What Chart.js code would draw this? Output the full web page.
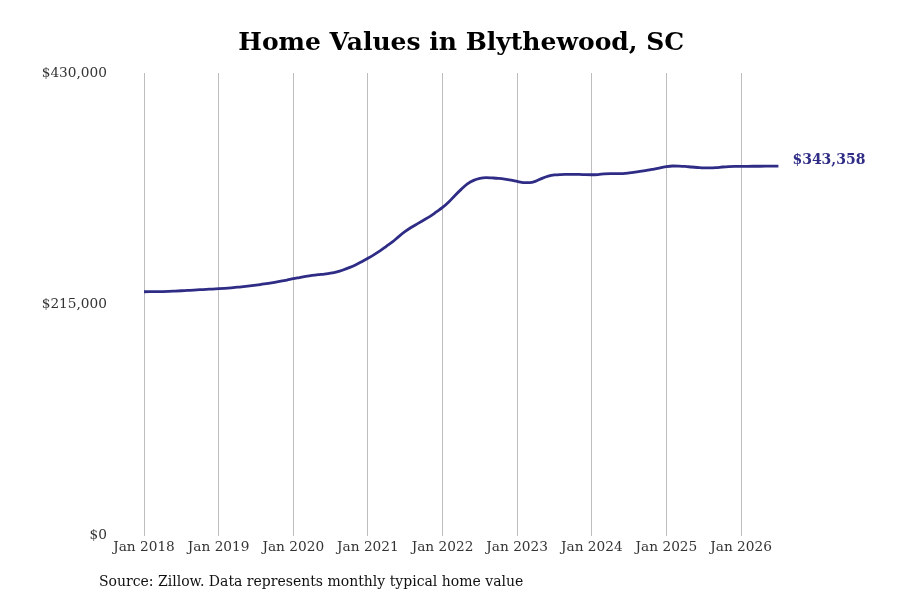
<!DOCTYPE html>
<html>
<head>
<meta charset="utf-8">
<script src="https://cdn.jsdelivr.net/npm/chart.js@4.4.1/dist/chart.umd.min.js"></script>
<style>
  body { margin: 0; background: #fff; }
  #wrap { position: relative; width: 900px; height: 600px; }
  #source {
    position: absolute; left: 99px; top: 573px;
    font-family: "DejaVu Serif", serif; font-size: 14px; color: #111;
  }
</style>
</head>
<body>
<div id="wrap">
  <canvas id="chart" width="900" height="600"></canvas>
  <div id="source">Source: Zillow. Data represents monthly typical home value</div>
</div>
<script>
const startYear = 2018;

// monthly typical home value, Jan 2018 .. Jul 2026
const values2018 = [226660, 226700, 226750, 226850, 227030, 227310, 227590, 227870, 228150, 228530, 228810, 229180];
const values2019 = [229460, 229830, 230300, 230860, 231420, 232070, 232820, 233660, 234500, 235430, 236460, 237570];
const values2020 = [238790, 239810, 240840, 241770, 242520, 243100, 243900, 245100, 246900, 249100, 251600, 254600];
const values2021 = [257800, 261200, 264900, 269100, 273300, 278200, 282700, 286600, 290000, 293350, 296700, 300820];
const values2022 = [305010, 310140, 316200, 321800, 326930, 330200, 332060, 332720, 332440, 332060, 331410, 330480];
const values2023 = [329260, 328140, 328050, 329450, 332060, 334110, 335230, 335610, 335700, 335790, 335700, 335510];
const values2024 = [335420, 335610, 336170, 336450, 336450, 336540, 337100, 337850, 338690, 339620, 340740, 341860];
const values2025 = [342980, 343540, 343450, 343170, 342610, 342140, 341770, 341770, 342050, 342610, 343000, 343200];
const values2026 = [343250, 343280, 343300, 343320, 343340, 343350, 343358];

const values = [].concat(values2018, values2019, values2020, values2021, values2022,
  values2023, values2024, values2025, values2026);

const monthNames = ["Jan", "Feb", "Mar", "Apr", "May", "Jun", "Jul", "Aug", "Sep", "Oct", "Nov", "Dec"];
const labels = values.map((v, i) => monthNames[i % 12] + " " + (startYear + Math.floor(i / 12)));

const yTicks = [0, 215000, 430000];
const lineColor = "#2f2c86";
const serif = "'DejaVu Serif', serif";

const endLabel = {
  id: "endLabel",
  afterDatasetsDraw(chart) {
    const meta = chart.getDatasetMeta(0);
    const pt = meta.data[meta.data.length - 1];
    const v = values[values.length - 1];
    const ctx = chart.ctx;
    ctx.save();
    ctx.font = "bold 14px " + serif;
    ctx.fillStyle = lineColor;
    ctx.textBaseline = "middle";
    ctx.fillText("$" + v.toLocaleString("en-US"), pt.x + 14, pt.y - 6);
    ctx.restore();
  }
};

new Chart(document.getElementById("chart"), {
  type: "line",
  data: {
    labels: labels,
    datasets: [{
      data: values,
      borderColor: lineColor,
      borderWidth: 2.8,
      pointRadius: 0,
      tension: 0.4,
      cubicInterpolationMode: "monotone",
      fill: false
    }]
  },
  options: {
    responsive: false,
    animation: false,
    layout: { padding: { left: 42, right: 121.6, top: 0, bottom: 40 } },
    plugins: {
      legend: { display: false },
      tooltip: { enabled: false },
      title: {
        display: true,
        text: "Home Values in Blythewood, SC",
        fullSize: false,
        color: "#000",
        font: { family: serif, size: 25, weight: "bold" },
        padding: { top: 28, bottom: 15 }
      }
    },
    scales: {
      x: {
        type: "category",
        offset: false,
        border: { display: false },
        grid: {
          drawTicks: false,
          color: ctx => (ctx.index % 12 === 0 ? "#bdbdbd" : "rgba(0,0,0,0)")
        },
        ticks: {
          autoSkip: false,
          maxRotation: 0,
          padding: 4,
          color: "#333",
          font: { family: serif, size: 13.7 },
          callback: (v, i) => (i % 12 === 0 ? labels[i] : "")
        }
      },
      y: {
        min: 0,
        max: 430000,
        border: { display: false },
        grid: { display: false, drawTicks: false },
        afterBuildTicks: s => { s.ticks = yTicks.map(v => ({ value: v })); },
        afterFit: s => { s.width = 102; },
        ticks: {
          padding: 37,
          color: "#333",
          font: { family: serif, size: 13.7 },
          callback: v => "$" + v.toLocaleString("en-US")
        }
      }
    }
  },
  plugins: [endLabel]
});
</script>
</body>
</html>
